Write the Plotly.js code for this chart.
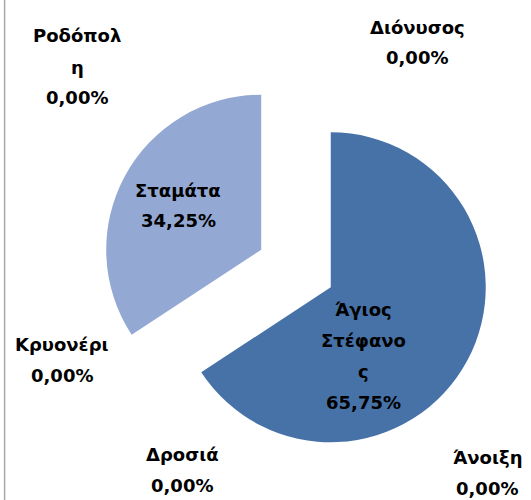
<!DOCTYPE html>
<html>
<head>
<meta charset="utf-8">
<script src="https://cdn.plot.ly/plotly-3.0.1.min.js"></script>
<style>html,body{margin:0;padding:0;background:#fff;}#chart{width:531px;height:500px;}</style>
</head>
<body>
<div id="chart"></div>
<script>
// ---- data ----
const categories = ["Άγιος Στέφανος", "Άνοιξη", "Δροσιά", "Κρυονέρι", "Σταμάτα", "Ροδόπολη", "Διόνυσος"];
const values = [65.75, 0, 0, 0, 34.25, 0, 0];
// wrapped label text as shown in the chart (| marks a line break)
const labelText = ["Άγιος|Στέφανο|ς", "Άνοιξη", "Δροσιά", "Κρυονέρι", "Σταμάτα", "Ροδόπολ|η", "Διόνυσος"];
const colors = ["#4672a8", "#4672a8", "#4672a8", "#4672a8", "#93a9d3", "#93a9d3", "#93a9d3"];

// ---- layout helpers (pixel anchors of first label line) ----
const W = 531, H = 500;
const labelPos = [[363, 309], [487, 457], [182, 454], [62, 344], [178, 190], [77, 36], [417, 27]];
const lineGap = 31;

const total = values.reduce((a, b) => a + b, 0);
const annotations = [];
categories.forEach((c, i) => {
  const pct = (values[i] / total * 100).toFixed(2).replace('.', ',') + '%';
  const lines = labelText[i].split('|').concat([pct]);
  lines.forEach((ln, k) => {
    annotations.push({
      xref: 'paper', yref: 'paper',
      x: labelPos[i][0] / W, y: 1 - (labelPos[i][1] + k * lineGap) / H,
      xanchor: 'center', yanchor: 'middle', showarrow: false,
      text: '<b>' + ln + '</b>',
      font: {family: 'DejaVu Sans', size: 18, color: '#000'}
    });
  });
});

const trace = {
  type: 'pie',
  labels: categories,
  values: values,
  sort: false,
  direction: 'clockwise',
  rotation: 0,
  pull: values.map(() => 0.255),
  marker: {colors: colors, line: {width: 0}},
  textinfo: 'none',
  hoverinfo: 'label+percent',
  showlegend: false,
  domain: {x: [0.1911, 0.9237], y: [0.074, 0.852]}
};

const layout = {
  width: W, height: H,
  margin: {l: 0, r: 0, t: 0, b: 0},
  paper_bgcolor: '#ffffff',
  showlegend: false,
  annotations: annotations,
  shapes: [{type: 'line', xref: 'paper', yref: 'paper', x0: 4.6 / W, x1: 4.6 / W, y0: 0, y1: 1,
            line: {color: '#a8a8a8', width: 1.5}}]
};

Plotly.newPlot('chart', [trace], layout, {displayModeBar: false, staticPlot: true});
</script>
</body>
</html>
